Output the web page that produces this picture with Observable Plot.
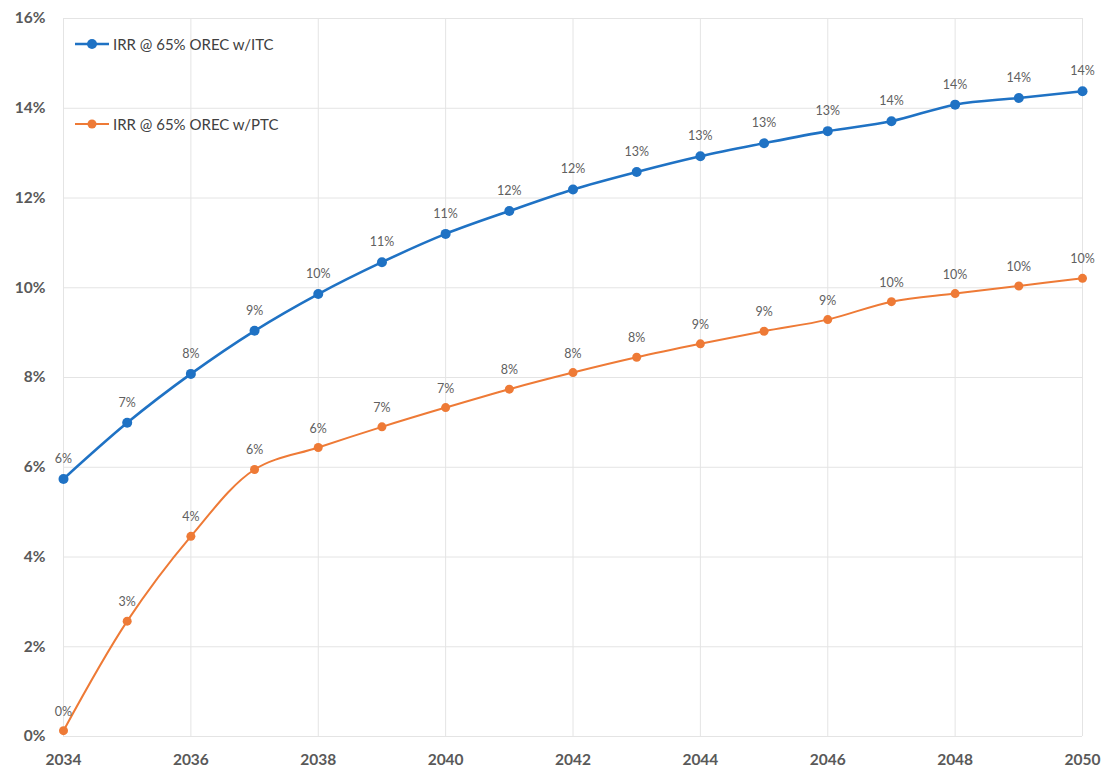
<!DOCTYPE html>
<html>
<head>
<meta charset="utf-8">
<script src="https://cdn.jsdelivr.net/npm/d3@7"></script>
<script src="https://cdn.jsdelivr.net/npm/@observablehq/plot@0.6"></script>
<style>
  html, body { margin: 0; padding: 0; background: #ffffff; }
  #wrap { position: relative; width: 1108px; height: 773px; }
  .legend { position: absolute; left: 75px; font-family: Lato, "Open Sans", sans-serif; font-size: 15px; color: #404040; display: flex; align-items: center; }
  .legend svg { margin-right: 4px; }
</style>
</head>
<body>
<div id="wrap"></div>
<script>
const years = [2034, 2035, 2036, 2037, 2038, 2039, 2040, 2041, 2042, 2043, 2044, 2045, 2046, 2047, 2048, 2049, 2050];
const itcValues = [0.0574, 0.0699, 0.0808, 0.0904, 0.0986, 0.1057, 0.1120, 0.1171, 0.1219, 0.1258, 0.1293, 0.1322, 0.1349, 0.1371, 0.1408, 0.1423, 0.1438];
const ptcValues = [0.0013, 0.0257, 0.0446, 0.0595, 0.0644, 0.0690, 0.0733, 0.0774, 0.0811, 0.0845, 0.0875, 0.0903, 0.0929, 0.0969, 0.0987, 0.1004, 0.1021];
const seriesNames = ["IRR @ 65% OREC w/ITC", "IRR @ 65% OREC w/PTC"];
const seriesColors = ["#1f72c4", "#ee7a36"];
const xTicks = [2034, 2036, 2038, 2040, 2042, 2044, 2046, 2048, 2050];
const yTicks = [0, 0.02, 0.04, 0.06, 0.08, 0.10, 0.12, 0.14, 0.16];

const itc = years.map((y, i) => ({year: y, value: itcValues[i], series: seriesNames[0]}));
const ptc = years.map((y, i) => ({year: y, value: ptcValues[i], series: seriesNames[1]}));
const pct = d3.format(".0%");

const chart = Plot.plot({
  width: 1108,
  height: 773,
  marginLeft: 63,
  marginRight: 26,
  marginTop: 18,
  marginBottom: 37,
  style: {fontFamily: "Lato, 'Open Sans', sans-serif", color: "#595959", background: "#ffffff"},
  x: {domain: [2034, 2050], label: null},
  y: {domain: [0, 0.16], label: null},
  marks: [
    Plot.gridX(xTicks, {stroke: "#e4e4e4", strokeOpacity: 1}),
    Plot.gridY(yTicks, {stroke: "#e4e4e4", strokeOpacity: 1}),
    Plot.axisY(yTicks, {label: null, tickFormat: d => pct(d), tickSize: 0, tickPadding: 18, fontSize: 15.5, fontWeight: "bold", fill: "#595959"}),
    Plot.axisX(xTicks, {label: null, tickFormat: d => String(d), tickSize: 0, tickPadding: 17, fontSize: 15.5, fontWeight: "bold", fill: "#595959"}),
    Plot.line(ptc, {x: "year", y: "value", stroke: seriesColors[1], strokeWidth: 2, curve: "catmull-rom"}),
    Plot.dot(ptc, {x: "year", y: "value", fill: seriesColors[1], r: 4.5}),
    Plot.line(itc, {x: "year", y: "value", stroke: seriesColors[0], strokeWidth: 2.6, curve: "catmull-rom"}),
    Plot.dot(itc, {x: "year", y: "value", fill: seriesColors[0], r: 5}),
    Plot.text(itc, {x: "year", y: "value", text: d => pct(d.value), dy: -20, fontSize: 12.5, fill: "#606060"}),
    Plot.text(ptc, {x: "year", y: "value", text: d => pct(d.value), dy: -19, fontSize: 12.5, fill: "#606060"})
  ]
});

const wrap = document.getElementById("wrap");
wrap.appendChild(chart);

const legendTops = [34, 114];
seriesNames.forEach((name, i) => {
  const div = document.createElement("div");
  div.className = "legend";
  div.style.top = legendTops[i] + "px";
  div.innerHTML = `<svg width="34" height="20"><line x1="0" x2="34" y1="10" y2="10" stroke="${seriesColors[i]}" stroke-width="${i === 0 ? 2.6 : 2}"/><circle cx="17" cy="10" r="${i === 0 ? 5 : 4.5}" fill="${seriesColors[i]}"/></svg><span>${name}</span>`;
  wrap.appendChild(div);
});
</script>
</body>
</html>
